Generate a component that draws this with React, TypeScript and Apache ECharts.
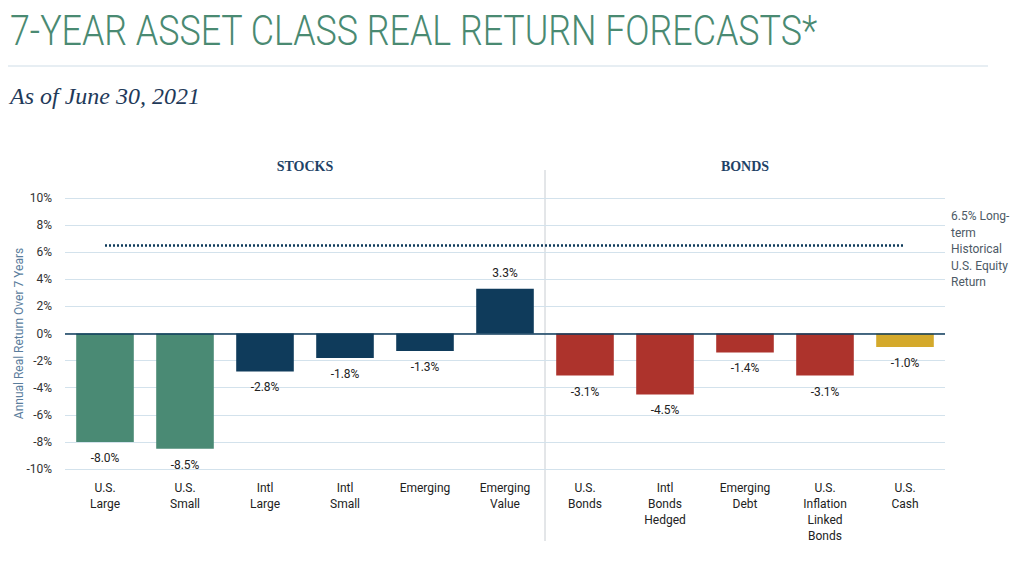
import React, { useEffect, useRef } from "react";
import * as echarts from "echarts";

const categories = [
  "U.S.\nLarge",
  "U.S.\nSmall",
  "Intl\nLarge",
  "Intl\nSmall",
  "Emerging",
  "Emerging\nValue",
  "U.S.\nBonds",
  "Intl\nBonds\nHedged",
  "Emerging\nDebt",
  "U.S.\nInflation\nLinked\nBonds",
  "U.S.\nCash",
];
const returns = [-8.0, -8.5, -2.8, -1.8, -1.3, 3.3, -3.1, -4.5, -1.4, -3.1, -1.0];
const groups = ["stocksUS", "stocksUS", "stocksIntl", "stocksIntl", "stocksIntl", "stocksIntl", "bonds", "bonds", "bonds", "bonds", "cash"];
const historicalReturn = 6.5;
const sectionLabels = ["STOCKS", "BONDS"];
const noteLines = ["6.5% Long-", "term", "Historical", "U.S. Equity", "Return"];

const groupColors: Record<string, string> = {
  stocksUS: "#4a8a74",
  stocksIntl: "#0f3b5b",
  bonds: "#ad332c",
  cash: "#d4a92b",
};

export default function App() {
  const ref = useRef<HTMLDivElement>(null);

  useEffect(() => {
    if (!ref.current) return;
    const chart = echarts.init(ref.current, undefined, { renderer: "svg" });
    chart.setOption({
      animation: false,
      backgroundColor: "#ffffff",
      grid: { left: 65, right: 79, top: 198, bottom: 119, outerBoundsMode: "none" },
      xAxis: {
        type: "category",
        data: categories,
        axisLine: { show: false },
        axisTick: { show: false },
        axisLabel: {
          interval: 0,
          margin: 11,
          color: "#222222",
          fontFamily: "Roboto",
          fontSize: 12,
          lineHeight: 16,
          verticalAlign: "top",
        },
      },
      yAxis: {
        type: "value",
        min: -10,
        max: 10,
        interval: 2,
        name: "Annual Real Return Over 7 Years",
        nameLocation: "middle",
        nameGap: 40,
        nameMoveOverlap: false,
        nameTextStyle: { color: "#5a7d9c", fontFamily: "Roboto", fontSize: 12 },
        axisLine: { show: false },
        axisTick: { show: false },
        axisLabel: {
          formatter: "{value}%",
          margin: 13,
          color: "#333333",
          fontFamily: "Roboto",
          fontSize: 12,
        },
        splitLine: { lineStyle: { color: "#d3e2ec", width: 1 } },
      },
      series: [
        {
          type: "bar",
          barWidth: "72%",
          data: returns.map((v, i) => ({
            value: v,
            itemStyle: { color: groupColors[groups[i]] },
            label: { position: v >= 0 ? "top" : "bottom" },
          })),
          label: {
            show: true,
            formatter: (p: any) => `${Number(p.value).toFixed(1)}%`,
            color: "#222222",
            fontFamily: "Roboto",
            fontSize: 12,
            distance: 10,
          },
          markLine: {
            silent: true,
            symbol: ["none", "none"],
            label: { show: false },
            data: [
              { yAxis: 0, lineStyle: { color: "#0f3b5b", width: 1.5, type: "solid" } },
              [
                { coord: [0, historicalReturn], lineStyle: { color: "#0f3b5b", width: 2.5, type: [2, 2] } },
                { coord: [categories.length - 1, historicalReturn] },
              ],
            ],
          },
        },
      ],
      graphic: [
        {
          type: "text",
          left: 10,
          top: 10,
          scaleX: 0.853,
          style: {
            text: "7-YEAR ASSET CLASS REAL RETURN FORECASTS*",
            fill: "#4a8a72",
            font: "300 42px Roboto",
          },
        },
        {
          type: "line",
          shape: { x1: 5, y1: 66, x2: 988, y2: 66 },
          style: { stroke: "#dfe8ef", lineWidth: 1.5 },
        },
        {
          type: "text",
          left: 10,
          top: 84,
          style: {
            text: "As of June 30, 2021",
            fill: "#1f3a5a",
            font: "italic 24px 'Liberation Serif'",
          },
        },
        {
          type: "text",
          x: 305,
          y: 166,
          style: {
            text: sectionLabels[0],
            fill: "#1e4266",
            font: "bold 14px 'Liberation Serif'",
            align: "center",
            verticalAlign: "middle",
          },
        },
        {
          type: "text",
          x: 745,
          y: 166,
          style: {
            text: sectionLabels[1],
            fill: "#1e4266",
            font: "bold 14px 'Liberation Serif'",
            align: "center",
            verticalAlign: "middle",
          },
        },
        {
          type: "line",
          shape: { x1: 545, y1: 170, x2: 545, y2: 541 },
          style: { stroke: "#c8cdd2", lineWidth: 1 },
        },
        {
          type: "text",
          x: 951,
          y: 208,
          style: {
            text: noteLines.join("\n"),
            fill: "#4d5a66",
            font: "12px Roboto",
            lineHeight: 16.5,
          },
        },
      ],
    });
    return () => chart.dispose();
  }, []);

  return <div ref={ref} style={{ width: 1024, height: 588, margin: -8 }} />;
}
